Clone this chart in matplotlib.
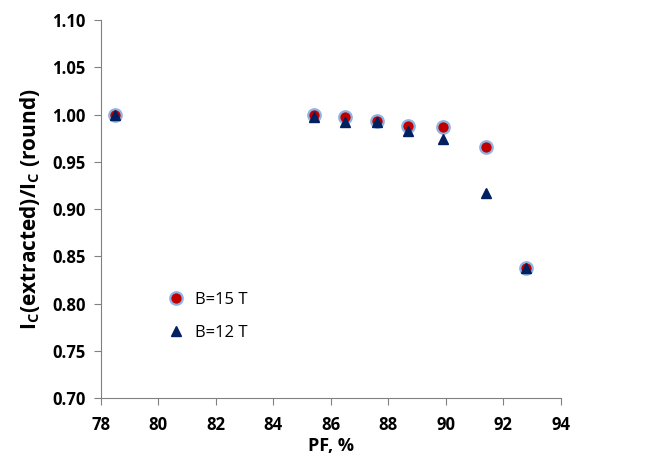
import matplotlib.pyplot as plt

plt.rcParams['font.family'] = ['Open Sans', 'DejaVu Sans']
plt.rcParams['mathtext.fontset'] = 'custom'
plt.rcParams['mathtext.rm'] = 'Open Sans:bold'

# data
pf = [78.5, 85.4, 86.5, 87.6, 88.7, 89.9, 91.4, 92.8]
ic_15T = [1.000, 1.000, 0.998, 0.993, 0.988, 0.987, 0.966, 0.838]
ic_12T = [1.000, 0.997, 0.992, 0.992, 0.983, 0.974, 0.917, 0.838]

fig = plt.figure(figsize=(6.46, 4.58), dpi=100)
ax = fig.add_axes([0.156, 0.131, 0.712, 0.825])

ax.plot(pf, ic_15T, 'o', ms=9, mfc='#C00000', mec='#8DB4E2', mew=1.6,
        label='B=15 T', zorder=3)
ax.plot(pf, ic_12T, '^', ms=7.5, mfc='#002060', mec='#002060',
        label='B=12 T', zorder=4)

ax.set_xlim(78, 94)
ax.set_ylim(0.70, 1.10)
ax.set_xticks(range(78, 95, 2))
ax.set_yticks([0.70 + 0.05 * i for i in range(9)])
ax.set_yticklabels([f'{0.70 + 0.05 * i:.2f}' for i in range(9)])

for s in ['top', 'right']:
    ax.spines[s].set_visible(False)
for s in ['left', 'bottom']:
    ax.spines[s].set_color('#808080')
    ax.spines[s].set_linewidth(0.8)
ax.tick_params(direction='out', length=5, color='#808080', width=0.8,
               labelsize=12, pad=6)
ax.tick_params(axis='x', pad=8)
for lab in ax.get_xticklabels() + ax.get_yticklabels():
    lab.set_fontweight('bold')

ax.set_xlabel('PF, %', fontsize=13, fontweight='bold', labelpad=2)
ax.set_ylabel(r'I$_\mathrm{C}$(extracted)/I$_\mathrm{C}$ (round)',
              fontsize=15, fontweight='bold', labelpad=7)

ax.legend(loc='lower left', bbox_to_anchor=(0.11, 0.13), frameon=False,
          fontsize=12, handletextpad=0.1, labelspacing=1.0, borderpad=0)

fig.savefig('out.png', dpi=100)
